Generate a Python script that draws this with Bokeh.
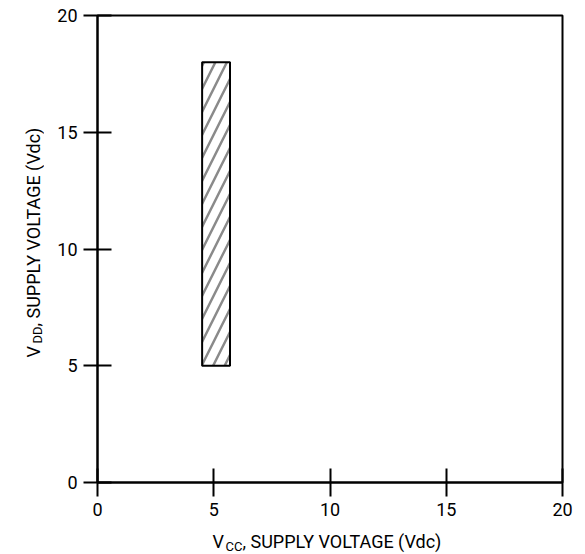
import math
from bokeh.plotting import figure
from bokeh.layouts import column, row
from bokeh.models import Label, FixedTicker
from bokeh.embed import file_html
from bokeh.resources import INLINE

# ---- data ----
x_ticks = [0, 5, 10, 15, 20]
y_ticks = [0, 5, 10, 15, 20]
vcc_min = [4.5]
vcc_max = [5.7]
vdd_min = [5.0]
vdd_max = [18.0]
x_label = ["V", "CC", ", SUPPLY VOLTAGE (Vdc)"]
y_label = ["V", "DD", ", SUPPLY VOLTAGE (Vdc)"]

FONT = "Roboto"
TICK_SIZE = "18px"
LABEL_SIZE = "18px"
SUB_SIZE = "13px"

p = figure(frame_width=465, frame_height=467,
           x_range=(0, 20), y_range=(0, 20),
           output_backend="svg", toolbar_location=None,
           min_border_left=53, min_border_top=15,
           min_border_right=15, min_border_bottom=41,
           background_fill_color="white", border_fill_color="white")

p.grid.visible = False
p.outline_line_color = "black"
p.outline_line_width = 2

for ax, ticks in ((p.xaxis, x_ticks), (p.yaxis, y_ticks)):
    ax.ticker = FixedTicker(ticks=ticks)
    ax.minor_tick_line_color = None
    ax.major_tick_in = 14
    ax.major_tick_out = 14
    ax.major_tick_line_width = 2
    ax.major_tick_line_color = "black"
    ax.axis_line_width = 2
    ax.axis_line_color = "black"
    ax.major_label_text_font = FONT
    ax.major_label_text_font_size = TICK_SIZE
    ax.major_label_text_color = "black"
    ax.major_label_standoff = 6

p.quad(left=vcc_min, right=vcc_max, bottom=vdd_min, top=vdd_max,
       fill_color="white", line_color="black", line_width=2,
       hatch_pattern="/", hatch_color="#8a8a8a", hatch_weight=2.5,
       hatch_scale=23)


def blank(width, height):
    f = figure(width=width, height=height, x_range=(0, 1), y_range=(0, 1),
               output_backend="svg", toolbar_location=None,
               x_axis_location=None, y_axis_location=None, min_border=0,
               outline_line_color=None, background_fill_color="white",
               border_fill_color="white")
    f.grid.visible = False
    return f


def lab(f, text, x, y, size, angle=0.0):
    f.add_layout(Label(x=x, y=y, x_units="screen", y_units="screen",
                       text=text, text_font=FONT, text_font_size=size,
                       text_color="black", text_align="left",
                       text_baseline="alphabetic", angle=angle))


# left strip with rotated y label (its frame lines up with the main frame)
yfig = blank(44, 523)
lab(yfig, y_label[0], 33, 125, LABEL_SIZE, math.pi / 2)
lab(yfig, y_label[1], 37, 139, SUB_SIZE, math.pi / 2)
lab(yfig, y_label[2], 33, 156, LABEL_SIZE, math.pi / 2)

# bottom strip with x label
xfig = blank(577, 30)
lab(xfig, x_label[0], 212, 12, LABEL_SIZE)
lab(xfig, x_label[1], 225, 7, SUB_SIZE)
lab(xfig, x_label[2], 242, 12, LABEL_SIZE)

layout = column(row(yfig, p), xfig)

open("out.html", "w").write(file_html(layout, INLINE))
